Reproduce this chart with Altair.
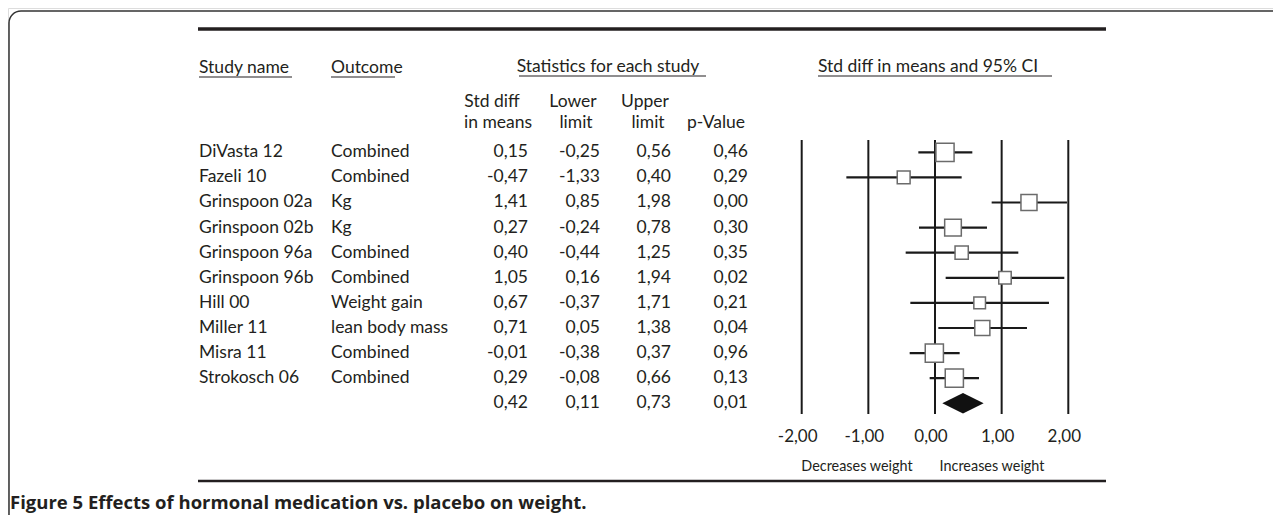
import altair as alt
import pandas as pd

# ---- data ----
studies = ["DiVasta 12", "Fazeli 10", "Grinspoon 02a", "Grinspoon 02b", "Grinspoon 96a",
           "Grinspoon 96b", "Hill 00", "Miller 11", "Misra 11", "Strokosch 06"]
outcomes = ["Combined", "Combined", "Kg", "Kg", "Combined",
            "Combined", "Weight gain", "lean body mass", "Combined", "Combined"]
std_diff = [0.15, -0.47, 1.41, 0.27, 0.40, 1.05, 0.67, 0.71, -0.01, 0.29]
lower = [-0.25, -1.33, 0.85, -0.24, -0.44, 0.16, -0.37, 0.05, -0.38, -0.08]
upper = [0.56, 0.40, 1.98, 0.78, 1.25, 1.94, 1.71, 1.38, 0.37, 0.66]
p_value = [0.46, 0.29, 0.00, 0.30, 0.35, 0.02, 0.21, 0.04, 0.96, 0.13]
# relative study weight (drawn as box area)
rel_weight = [1.00, 0.50, 0.78, 0.84, 0.53, 0.47, 0.41, 0.69, 1.00, 1.00]

summary_es = 0.42
summary_lo = 0.11
summary_hi = 0.73
summary_p = 0.01

tick_values = [-2, -1, 0, 1, 2]
tick_labels = ["-2,00", "-1,00", "0,00", "1,00", "2,00"]

FONT = "Lato"
INK = "#231f20"
FS = 17.5

W, H = 1265, 507


def fmt(v):
    return f"{v:.2f}".replace(".", ",")


rows = pd.DataFrame({
    "row": list(range(len(studies))),
    "study": studies,
    "outcome": outcomes,
    "es": std_diff,
    "lo": lower,
    "hi": upper,
    "p": p_value,
    "w": rel_weight,
})
table = pd.DataFrame({
    "row": list(range(len(studies) + 1)),
    "study": studies + [""],
    "outcome": outcomes + [""],
    "es_t": [fmt(v) for v in std_diff + [summary_es]],
    "lo_t": [fmt(v) for v in lower + [summary_lo]],
    "hi_t": [fmt(v) for v in upper + [summary_hi]],
    "p_t": [fmt(v) for v in p_value + [summary_p]],
})
srow = len(studies)
diamond = pd.DataFrame({
    "x": [summary_lo, summary_es, summary_hi],
    "y": [srow, srow - 0.41, srow],
    "y2": [srow, srow + 0.41, srow],
})
ticks = pd.DataFrame({"v": tick_values, "lab": tick_labels})

# 66.65 px per unit, -2 at x = 793.7
xs = alt.Scale(domain=[-2 - 793.7 / 66.65, 2 + (W - 1060.3) / 66.65], nice=False, zero=False)
# 25.1 px per row, row 0 at y = 144.3
ys = alt.Scale(domain=[-5.749, -5.749 + H / 25.1], nice=False, zero=False, reverse=True)

one = pd.DataFrame({"a": [0]})


def label(text, x, y, align="left", size=FS, weight="normal", color=INK, font=FONT):
    return alt.Chart(one).mark_text(
        text=text, align=align, baseline="middle", font=font, fontSize=size,
        fontWeight=weight, color=color
    ).encode(x=alt.value(x), y=alt.value(y))


def hline(x1, x2, y, sw, color=INK):
    return alt.Chart(one).mark_rule(color=color, strokeWidth=sw).encode(
        x=alt.value(x1), x2=alt.value(x2), y=alt.value(y))


layers = []

# outer frame (only its top-left part is visible)
layers.append(alt.Chart(one).mark_rect(
    filled=False, stroke="#333333", strokeWidth=1.5, cornerRadius=12
).encode(x=alt.value(1), x2=alt.value(1400), y=alt.value(3), y2=alt.value(700)))

layers.append(hline(190, 1098, 21, 3.5))
layers.append(hline(190, 1098, 473, 2.5))

# headers
layers.append(label("Study name", 191, 60))
layers.append(hline(191, 284, 69, 1.2))
layers.append(label("Outcome", 323, 60))
layers.append(hline(323, 387, 69, 1.2))
layers.append(label("Statistics for each study", 600, 59, align="center"))
layers.append(hline(511, 698, 68, 1.2))
layers.append(label("Std diff in means and 95% CI", 920, 59, align="center"))
layers.append(hline(810, 1044, 68, 1.2))
layers.append(label("Std diff", 484, 94, align="center"))
layers.append(label("in means", 490, 115, align="center"))
layers.append(label("Lower", 565, 94, align="center"))
layers.append(label("limit", 568, 115, align="center"))
layers.append(label("Upper", 637, 94, align="center"))
layers.append(label("limit", 640, 115, align="center"))
layers.append(label("p-Value", 708, 115, align="center"))

# table body
tb = alt.Chart(table)
for col, xpix, al in [("study", 191, "left"), ("outcome", 323, "left"),
                      ("es_t", 520, "right"), ("lo_t", 592, "right"),
                      ("hi_t", 663, "right"), ("p_t", 740, "right")]:
    layers.append(tb.mark_text(align=al, baseline="middle", font=FONT, fontSize=FS,
                               color=INK, dy=0).encode(
        x=alt.value(xpix),
        y=alt.Y("row:Q", scale=ys, axis=None),
        text=f"{col}:N"))

# forest plot
layers.append(alt.Chart(ticks).mark_rule(color="#1a1a1a", strokeWidth=2).encode(
    x=alt.X("v:Q", scale=xs, axis=None), y=alt.value(132), y2=alt.value(406)))
layers.append(alt.Chart(ticks).mark_text(baseline="middle", font=FONT, fontSize=17,
                                         color=INK, dx=-4).encode(
    x=alt.X("v:Q", scale=xs, axis=None), y=alt.value(429), text="lab:N"))

layers.append(alt.Chart(rows).mark_rule(color="#1a1a1a", strokeWidth=2.2).encode(
    x=alt.X("lo:Q", scale=xs, axis=None), x2="hi:Q",
    y=alt.Y("row:Q", scale=ys, axis=None)))
layers.append(alt.Chart(rows).mark_square(filled=True, fill="white", stroke="#6b6b6b",
                                          strokeWidth=1.5, opacity=1).encode(
    x=alt.X("es:Q", scale=xs, axis=None),
    y=alt.Y("row:Q", scale=ys, axis=None),
    size=alt.Size("w:Q", scale=alt.Scale(domain=[0, 1], range=[0, 330]), legend=None)))
layers.append(alt.Chart(diamond).mark_area(color="#111111", opacity=1).encode(
    x=alt.X("x:Q", scale=xs, axis=None),
    y=alt.Y("y:Q", scale=ys, axis=None), y2="y2:Q"))

layers.append(label("Decreases weight", 849, 459, align="center", size=14.4))
layers.append(label("Increases weight", 984, 459, align="center", size=14.4))

# caption
layers.append(label("Figure 5 Effects of hormonal medication vs. placebo on weight.",
                    2, 495, size=18.5, weight="bold", font="Open Sans"))

chart = alt.layer(*layers).properties(
    width=W, height=H, padding=0, autosize=alt.AutoSizeParams(type="none")
).configure_view(stroke=None).configure(background="white")

chart.save("out.html", embed_options={"renderer": "svg", "actions": False})
